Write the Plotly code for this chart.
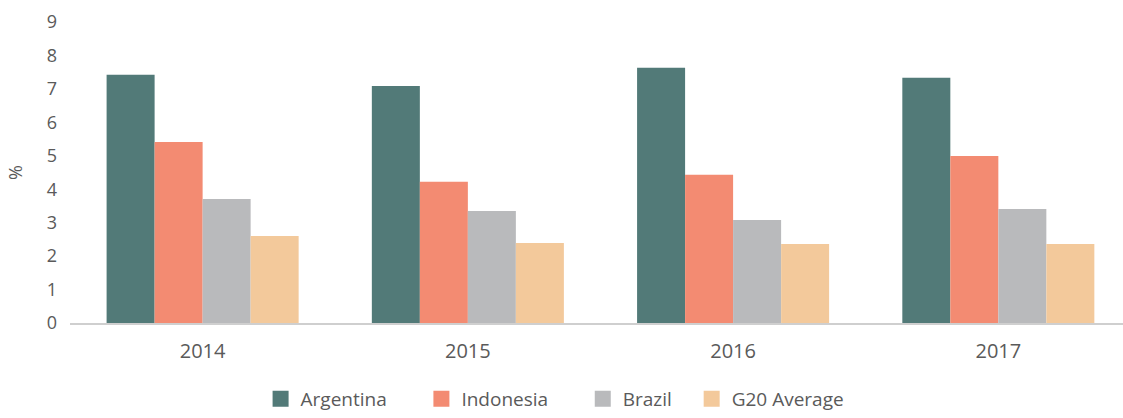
import plotly.graph_objects as go

years = ["2014", "2015", "2016", "2017"]
argentina = [7.42, 7.09, 7.63, 7.33]
indonesia = [5.41, 4.22, 4.43, 4.99]
brazil = [3.71, 3.35, 3.08, 3.41]
g20_average = [2.60, 2.39, 2.36, 2.36]
y_ticks = list(range(0, 10))

series = [
    ("Argentina", argentina, "#527a78", 6),
    ("Indonesia", indonesia, "#f38b72", 6),
    ("Brazil", brazil, "#b9babc", 3),
    ("G20 Average", g20_average, "#f3c99b", 0),
]

fig = go.Figure()
for name, vals, color, pad in series:
    fig.add_trace(go.Bar(x=years, y=vals, name=name, showlegend=False,
                         marker=dict(color=color, line=dict(width=0))))
# legend entries with larger square swatches (trailing no-break spaces widen the spacing)
for name, vals, color, pad in series:
    fig.add_trace(go.Scatter(x=[None], y=[None], mode="markers", name=name + "\u00a0" * pad,
                             marker=dict(symbol="square", size=16, color=color)))

font_family = "Open Sans, DejaVu Sans, sans-serif"
fig.update_layout(
    width=1123, height=418,
    margin=dict(l=70, r=0, t=22, b=95, autoexpand=False),
    paper_bgcolor="white", plot_bgcolor="white",
    barmode="group", bargap=0.276, bargroupgap=0,
    font=dict(family=font_family, color="#5a5a5a", size=17),
    showlegend=True,
    legend=dict(orientation="h", x=0.181, xanchor="left", yref="container", y=-0.015, yanchor="bottom",
                font=dict(size=19, color="#5a5a5a"), traceorder="normal", itemsizing="trace"),
    xaxis=dict(type="category", range=[-0.5, 3.47], showline=True, linecolor="#cfcfcf", linewidth=2,
               ticks="", showgrid=False, ticklabelstandoff=9, tickfont=dict(size=20, color="#5a5a5a")),
    yaxis=dict(range=[0, 9], tickvals=y_ticks, showgrid=False, zeroline=False, showline=False,
               ticks="", ticklabelstandoff=12, tickfont=dict(size=18, color="#5a5a5a"),
               title=dict(text="%", font=dict(size=18, color="#5a5a5a"), standoff=19)),
)

fig.write_html("out.html", config={"displayModeBar": False},
               post_script="document.body.style.margin='0';document.body.style.overflow='hidden';")
